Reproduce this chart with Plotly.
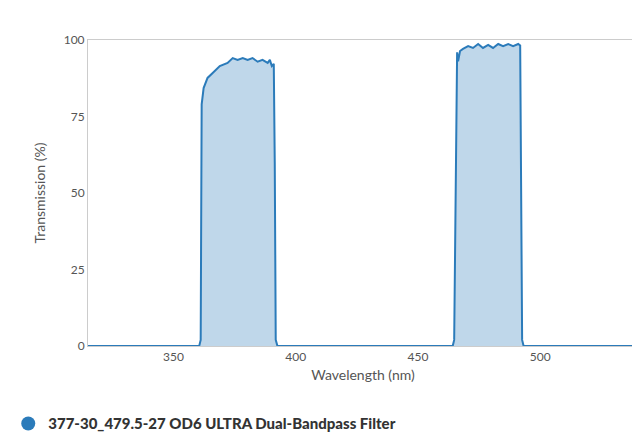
import plotly.graph_objects as go

# wavelength (nm) and transmission (%)
wavelength = [315, 360.5, 361.1, 361.5, 362.3, 363.9, 366.0, 368.9, 372.1, 374.2, 376.2, 378.3,
              380.3, 382.3, 384.4, 386.4, 388.5, 389.4, 390.2, 391.0, 391.4, 391.8, 392.5,
              464.2, 464.8, 465.4, 466.0, 466.4, 467.2, 468.4, 470.5, 472.5, 474.6, 476.6,
              478.7, 480.7, 482.8, 484.8, 486.9, 488.9, 491.0, 491.8, 492.2, 492.6, 493.2, 540]
transmission = [0, 0, 2, 79, 84.3, 87.6, 89.2, 91.5, 92.5, 94.1, 93.5, 94.1,
                93.5, 94.1, 92.9, 93.5, 92.5, 93.5, 91.5, 92.2, 60, 2, 0,
                0, 2, 50, 96, 93, 96.4, 97.1, 98.0, 97.4, 98.7, 97.4,
                98.4, 97.4, 98.7, 98.0, 98.7, 98.0, 98.7, 98.2, 60, 2, 0, 0]

series_name = "377-30_479.5-27 OD6 ULTRA Dual-Bandpass Filter"
color = "#2b7bba"

fig = go.Figure()
fig.add_trace(go.Scatter(name=series_name, x=wavelength, y=transmission, mode="lines",
                         line=dict(color=color, width=2), fill="tozeroy",
                         fillcolor="rgba(43,123,186,0.3)", showlegend=False))
fig.add_trace(go.Scatter(name=series_name, x=[None], y=[None], mode="markers",
                         marker=dict(color=color, size=14), showlegend=True))

fig.update_layout(
    width=640, height=446, plot_bgcolor="white", paper_bgcolor="white",
    margin=dict(l=80, r=10, t=32, b=108, autoexpand=False),
    font=dict(family="Lato", size=12, color="#555"),
    legend=dict(orientation="h", x=-0.145, y=-0.2, xanchor="left", yanchor="top",
                font=dict(size=15, color="#333", family="Lato Black"), itemsizing="trace"),
)
fig.update_xaxes(range=[315, 540], tickvals=[350, 400, 450, 500], showgrid=False, automargin=False,
                 showline=True, linecolor="#ccc", mirror=True, ticks="",
                 title=dict(text="Wavelength (nm)", standoff=6), zeroline=False)
fig.update_yaxes(range=[0, 100], tickvals=[0, 25, 50, 75, 100], showgrid=False, automargin=False,
                 showline=True, linecolor="#ccc", title=dict(text="Transmission (%)", standoff=14),
                 zeroline=False)

fig.write_html("out.html")
